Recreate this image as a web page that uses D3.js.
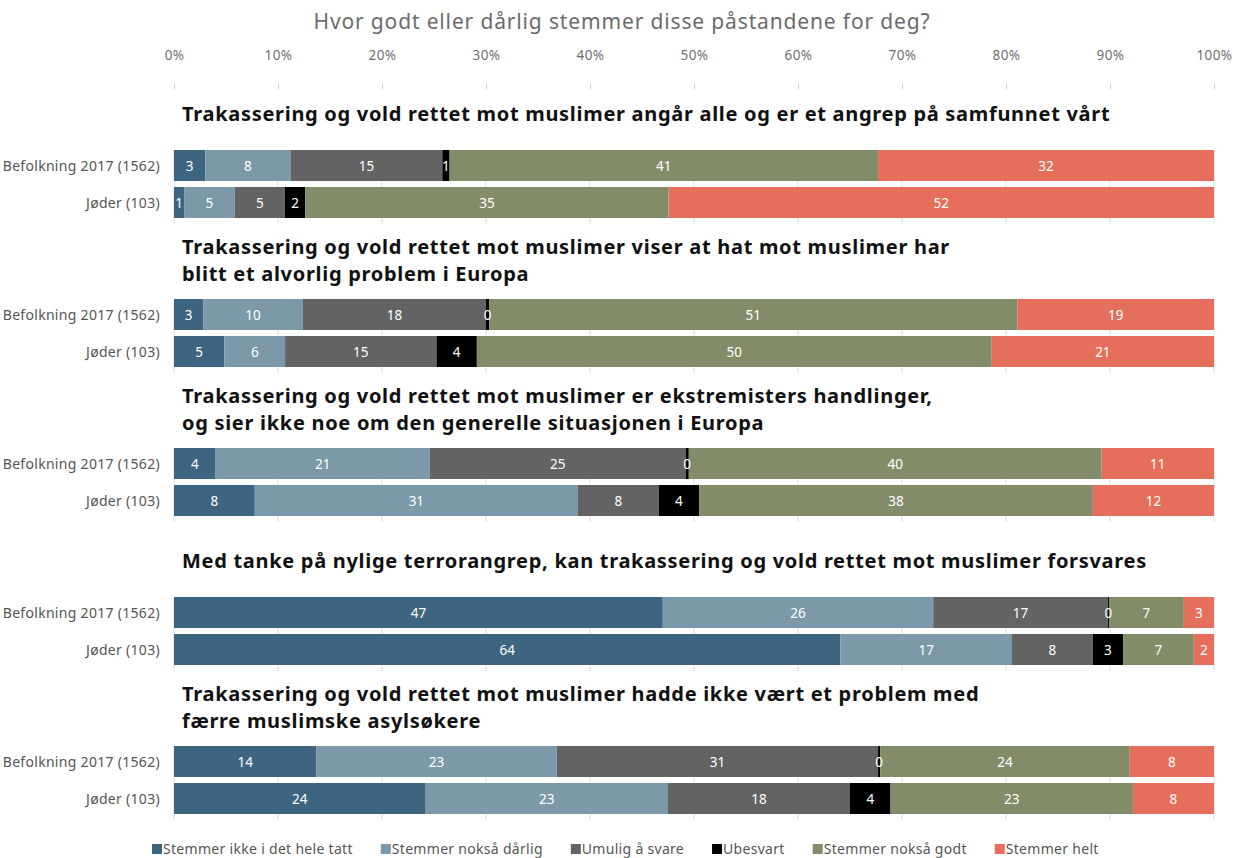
<!DOCTYPE html>
<html>
<head>
<meta charset="utf-8">
<script src="https://cdn.jsdelivr.net/npm/d3@7"></script>
<style>
  body { margin: 0; background: #fff; }
  svg { font-family: "Noto Sans", sans-serif; }
</style>
</head>
<body>
<svg width="1238" height="858"></svg>
<script>
// answer categories (legend order = stack order)
var categories = ["Stemmer ikke i det hele tatt", "Stemmer nokså dårlig", "Umulig å svare",
                  "Ubesvart", "Stemmer nokså godt", "Stemmer helt"];
var colors = ["#3d6480", "#7b99a8", "#636363", "#000000", "#838c69", "#e56f5c"];

var rows = ["Befolkning 2017 (1562)", "Jøder (103)"];

var statements = [
  ["Trakassering og vold rettet mot muslimer angår alle og er et angrep på samfunnet vårt"],
  ["Trakassering og vold rettet mot muslimer viser at hat mot muslimer har", "blitt et alvorlig problem i Europa"],
  ["Trakassering og vold rettet mot muslimer er ekstremisters handlinger,", "og sier ikke noe om den generelle situasjonen i Europa"],
  ["Med tanke på nylige terrorangrep, kan trakassering og vold rettet mot muslimer forsvares"],
  ["Trakassering og vold rettet mot muslimer hadde ikke vært et problem med", "færre muslimske asylsøkere"]
];

// percent, one array per statement
var befolkning = [
  [3.0, 8.2, 14.6, 0.7, 41.2, 32.3],
  [2.8, 9.6, 17.6, 0.3, 50.8, 18.9],
  [4.0, 20.6, 24.6, 0.3, 39.7, 10.8],
  [47.0, 26.0, 16.8, 0.1, 7.2, 2.9],
  [13.7, 23.1, 30.9, 0.2, 24.0, 8.1]
];
var joder = [
  [0.97, 4.85, 4.85, 1.94, 34.95, 52.44],
  [4.85, 5.83, 14.56, 3.88, 49.51, 21.37],
  [7.77, 31.07, 7.77, 3.88, 37.86, 11.65],
  [64.08, 16.50, 7.77, 2.91, 6.80, 1.94],
  [24.2, 23.3, 17.5, 3.9, 23.3, 7.8]
];

var ticks = [0, 10, 20, 30, 40, 50, 60, 70, 80, 90, 100];

var svg = d3.select("svg");

var x = d3.scaleLinear().domain([0, 100]).range([174, 1214]);
var gy = d3.scaleLinear().domain([0, 1]).range([150, 299]);
var barH = 31, barStep = 37;

// title
svg.append("text")
    .attr("x", 622).attr("y", 29)
    .attr("text-anchor", "middle")
    .style("font-size", "21px")
    .style("fill", "#6b6b6b")
    .style("letter-spacing", "0.85px")
    .text("Hvor godt eller dårlig stemmer disse påstandene for deg?");

// top axis
var axis = svg.append("g")
    .attr("transform", "translate(0,89)")
    .call(d3.axisTop(x).tickValues(ticks).tickSize(5).tickPadding(24)
          .tickFormat(function(d){ return d + "%"; }));
axis.select(".domain").remove();
axis.selectAll("line").style("stroke", "#d0d0d0");
axis.selectAll("text")
    .style("font-family", "Noto Sans, sans-serif")
    .style("font-size", "13.5px")
    .style("letter-spacing", "0.4px")
    .style("fill", "#707070");

statements.forEach(function(lines, gi){
    var top = gy(gi);
    var g = svg.append("g");

    // statement heading
    var lastY = top - (lines.length > 1 ? 25 : 36) + 7;
    lines.forEach(function(t, li){
        g.append("text")
            .attr("x", 182)
            .attr("y", lastY - (lines.length - 1 - li) * 27)
            .style("font-size", "20px")
            .style("font-weight", "bold")
            .style("letter-spacing", "0.7px")
            .style("fill", "#111")
            .text(t);
    });

    // grid lines
    g.selectAll("line.grid")
        .data(ticks)
        .enter().append("line")
        .attr("class", "grid")
        .attr("x1", function(d){ return x(d); })
        .attr("x2", function(d){ return x(d); })
        .attr("y1", top)
        .attr("y2", top + barStep + barH + 6)
        .style("stroke", "#dedede");

    [befolkning[gi], joder[gi]].forEach(function(vals, ri){
        var y = top + ri * barStep;
        var segs = [], acc = 0;
        vals.forEach(function(v, i){
            segs.push({x0: acc, x1: acc + v, v: v, i: i});
            acc += v;
        });

        g.append("text")
            .attr("x", 160)
            .attr("y", y + barH / 2 + 5)
            .attr("text-anchor", "end")
            .style("font-size", "14px")
            .style("letter-spacing", "0.3px")
            .style("fill", "#555")
            .text(rows[ri]);

        g.selectAll("rect.r" + ri)
            .data(segs)
            .enter().append("rect")
            .attr("class", "r" + ri)
            .attr("x", function(d){ return x(d.x0); })
            .attr("y", y)
            .attr("width", function(d){ return x(d.x1) - x(d.x0); })
            .attr("height", barH)
            .style("fill", function(d){ return colors[d.i]; });

        g.selectAll("text.l" + ri)
            .data(segs)
            .enter().append("text")
            .attr("class", "l" + ri)
            .attr("x", function(d){ return (x(d.x0) + x(d.x1)) / 2; })
            .attr("y", y + barH / 2 + 5)
            .attr("text-anchor", "middle")
            .style("font-size", "13.5px")
            .style("fill", "#fff")
            .text(function(d){ return Math.round(d.v); });
    });
});

// legend
var leg = svg.append("g").attr("transform", "translate(0,849)");
var lx = 152;
categories.forEach(function(c, i){
    leg.append("rect")
        .attr("x", lx).attr("y", -5)
        .attr("width", 10).attr("height", 10)
        .style("fill", colors[i]);
    var t = leg.append("text")
        .attr("x", lx + 11).attr("y", 5)
        .style("font-size", "14px")
        .style("letter-spacing", "0.3px")
        .style("fill", "#555")
        .text(c);
    lx += 11 + t.node().getComputedTextLength() + 28;
});
</script>
</body>
</html>
